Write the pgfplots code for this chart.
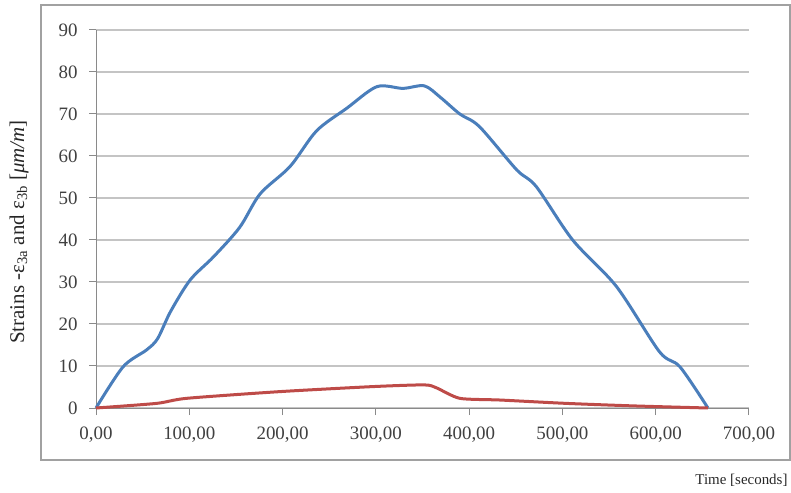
\documentclass[border=0pt]{standalone}
\usepackage{pgfplots}
\pgfplotsset{compat=1.18}
\usepackage{fontspec}
\setmainfont{Liberation Serif}
\definecolor{xlblue}{HTML}{4A7EBB}
\definecolor{xlred}{HTML}{BE4B48}
\definecolor{gridc}{HTML}{C4C4C4}
\definecolor{axc}{HTML}{8A8A8A}
\begin{document}
\begin{tikzpicture}
\path[use as bounding box] (0,0) rectangle (791bp,493bp);
\draw[color=axc!80, line width=1.5bp] (41bp,33bp) rectangle (790bp,488bp);
\begin{axis}[
  at={(96bp,85bp)}, anchor=south west,
  scale only axis, width=653bp, height=378bp,
  xmin=0, xmax=700, ymin=0, ymax=90,
  xtick={0,100,...,700},
  xticklabels={{0,00},{100,00},{200,00},{300,00},{400,00},{500,00},{600,00},{700,00}},
  ytick={0,10,...,90},
  axis x line=bottom, axis y line=left,
  axis line style={-, color=axc, line width=1bp},
  tick style={color=axc, line width=1bp},
  tick align=outside, major tick length=7bp,
  ymajorgrids, grid style={color=gridc, line width=1.3bp},
  /pgf/number format/assume math mode=true,
  ticklabel style={font=\fontsize{19}{21}\selectfont, color=black!75},
  xticklabel style={yshift=-8bp},
  yticklabel style={xshift=-8bp},
  clip=false,
]
\addplot[color=xlblue, line width=3bp, smooth, tension=0.5] coordinates {
(0,0) (29,9.8) (54,13.8) (66,16.5) (80,23) (101,30.5) (126,36) (154,43)
(176,51) (208,57.5) (236.5,66) (269,71.4) (301,76.5) (329,76.1) (352,76.7)
(369,74) (390,70) (411,67) (451,56.7) (472,52.7) (511,40) (558,28.9)
(604,13.4) (626,9.8) (656,0)
};
\addplot[color=xlred, line width=3bp, smooth, tension=0.4] coordinates {
(0,0) (65,1.1) (97,2.3) (197,3.9) (297,5.1) (352,5.5) (365,4.8) (390,2.3)
(433,1.9) (504,1.1) (576,0.5) (656,0)
};
\end{axis}
\node[rotate=90, font=\fontsize{21}{23}\selectfont, color=black!85] at (19bp,261bp)
  {Strains -ε\textsubscript{3a} and ε\textsubscript{3b} [\textit{μm/m}]};
\node[font=\fontsize{15}{17}\selectfont, color=black!85, anchor=east] at (791bp,13bp) {Time [seconds]};
\end{tikzpicture}
\end{document}
